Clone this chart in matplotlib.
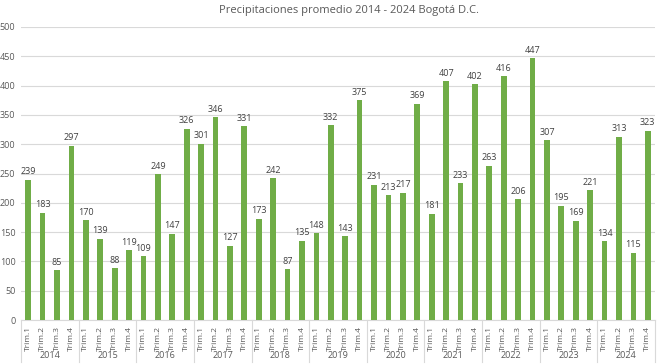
import numpy as np
import matplotlib
matplotlib.use('Agg')
import matplotlib.pyplot as plt
import matplotlib.transforms as mtransforms

years = ['2014', '2015', '2016', '2017', '2018', '2019', '2020', '2021', '2022', '2023', '2024']
quarters = ['Trim.1', 'Trim.2', 'Trim.3', 'Trim.4']
values = [239, 183, 85, 297,
          170, 139, 88, 119,
          109, 249, 147, 326,
          301, 346, 127, 331,
          173, 242, 87, 135,
          148, 332, 143, 375,
          231, 213, 217, 369,
          181, 407, 233, 402,
          263, 416, 206, 447,
          307, 195, 169, 221,
          134, 313, 115, 323]

plt.rcParams['font.family'] = ['Open Sans', 'DejaVu Sans']

fig = plt.figure(figsize=(6.64, 3.64), dpi=100)
ax = fig.add_axes([21 / 664, 1 - 320 / 364, 634 / 664, 293 / 364])

x = np.arange(len(values))
ax.bar(x, values, width=0.4, color='#70AD47', zorder=3)
for xi, v in zip(x, values):
    ax.text(xi, v + 6, str(v), ha='center', va='bottom', fontsize=6.5, color='#404040')

ax.set_xlim(-0.5, len(values) - 0.5)
ax.set_ylim(0, 500)
ax.set_yticks(np.arange(0, 501, 50))
ax.tick_params(axis='y', labelsize=6.5, colors='#595959', length=0, pad=4)
ax.yaxis.grid(True, color='#D9D9D9', linewidth=0.8, zorder=0)

ax.set_xticks(x)
ax.set_xticklabels(quarters * len(years), rotation=90, fontsize=6, color='#595959')
ax.tick_params(axis='x', length=0, pad=4)

for s in ['top', 'right', 'left']:
    ax.spines[s].set_visible(False)
ax.spines['bottom'].set_color('#D9D9D9')

# year separators and labels under the quarter labels
trans = mtransforms.blended_transform_factory(ax.transData, ax.transAxes)
for i in range(len(years) + 1):
    xs = i * 4 - 0.5
    ax.plot([xs, xs], [0, -42 / 293], transform=trans, color='#D9D9D9', linewidth=0.8, clip_on=False)
for i, yr in enumerate(years):
    ax.text(i * 4 + 1.5, -35 / 293, yr, transform=trans, ha='center', va='center', fontsize=6.5, color='#595959')

fig.text(349 / 664, 1 - 11 / 364, 'Precipitaciones promedio 2014 - 2024 Bogotá D.C.', ha='center', va='center', fontsize=8, color='#595959')

fig.savefig('out.png', dpi=100)
